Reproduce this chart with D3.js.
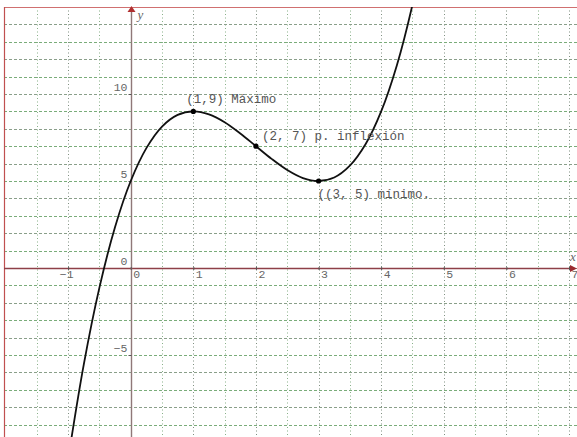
<!DOCTYPE html>
<html><head><meta charset="utf-8">
<script src="https://cdn.jsdelivr.net/npm/d3@7"></script>
<style>
html,body{margin:0;padding:0;background:#fff;}
svg{display:block;}
</style></head>
<body>
<script>
// Curve samples
const curveX = [-1,-0.75,-0.5,-0.25,0,0.25,0.5,0.75,1,1.25,1.5,1.75,2,2.25,2.5,2.75,3,3.25,3.5,3.75,4,4.25,4.5,4.75];
const curveY = [-11,-5.55,-1.13,2.36,5,6.89,8.13,8.8,9,8.83,8.38,7.73,7,6.27,5.63,5.17,5,5.2,5.88,7.11,9,11.64,15.13,19.55];
// Marked points and their annotations
const pointX = [1,2,3];
const pointY = [9,7,5];
const pointLabels = ["(1,9) Máximo","(2, 7) p. inflexión","((3, 5) mínimo."];
// Tick labels
const xTicks = [-1,0,1,2,3,4,5,6,7];
const yTicks = [10,5,0,-5];

const W = 577, H = 437;
const x = d3.scaleLinear().domain([-2, 7]).range([5.5, 569]);
const y = d3.scaleLinear().domain([-10, 15]).range([442, 7]);

const svg = d3.select("body").append("svg").attr("width", W).attr("height", H);

svg.append("defs").append("clipPath").attr("id","plot")
  .append("rect").attr("x",4).attr("y",7).attr("width",W-4).attr("height",H-7);

// grid
const vg = d3.range(-1.5, 7.01, 0.5);
svg.append("g").selectAll("line").data(vg).join("line")
  .attr("x1", d=>Math.round(x(d))+0.5).attr("x2", d=>Math.round(x(d))+0.5)
  .attr("y1", 7).attr("y2", H)
  .attr("stroke", (d,i)=> i%2 ? "#7f8f80" : "#88b088").attr("stroke-width",1)
  .attr("stroke-dasharray","1,2.5");
const hg = d3.range(-9, 14.01, 1);
svg.append("g").selectAll("line").data(hg).join("line")
  .attr("x1", 4).attr("x2", W)
  .attr("y1", d=>Math.round(y(d))+0.5).attr("y2", d=>Math.round(y(d))+0.5)
  .attr("stroke", (d,i)=> i%2 ? "#8a9f8a" : "#7aac7a").attr("stroke-width",1)
  .attr("stroke-dasharray","3,2");

// border (top, left)
svg.append("line").attr("x1",4).attr("x2",W).attr("y1",7.5).attr("y2",7.5).attr("stroke","#d07070").attr("stroke-width",1);
svg.append("line").attr("x1",4.5).attr("x2",4.5).attr("y1",7).attr("y2",H).attr("stroke","#c05050").attr("stroke-width",1.2);

// axes lines
const x0 = Math.round(x(0))+0.5, y0 = Math.round(y(0))+0.5;
svg.append("line").attr("x1",4).attr("x2",W-4).attr("y1",y0).attr("y2",y0).attr("stroke","#8e4048").attr("stroke-width",1.4);
svg.append("line").attr("x1",x0).attr("x2",x0).attr("y1",10).attr("y2",H).attr("stroke","#8f7878").attr("stroke-width",1.4);
// arrows
svg.append("path").attr("d",`M${W},${y0} L${W-7},${y0-3.5} L${W-7},${y0+3.5}Z`).attr("fill","#9a2a30");
svg.append("path").attr("d",`M${x0},6 L${x0-4},12 L${x0+4},12Z`).attr("fill","#b03030");

// x axis via d3 axis
const xAxis = d3.axisBottom(x).tickValues(xTicks).tickSize(3).tickFormat(d3.format("d"));
const gx = svg.append("g").attr("transform",`translate(0,${y0-1.5})`).call(xAxis);
gx.select(".domain").remove();
gx.selectAll(".tick line").attr("stroke","#555");
gx.selectAll(".tick text")
  .attr("font-family","'Liberation Mono', monospace").attr("font-size",11.5).attr("fill","#666")
  .attr("dy",0).attr("y",11)
  .attr("text-anchor", d=> d<0 ? "end" : "start")
  .attr("x", d=> d<0 ? 5 : 2);

const yAxis = d3.axisLeft(y).tickValues(yTicks).tickSize(3).tickFormat(d3.format("d"));
const gy = svg.append("g").attr("transform",`translate(${x0},0)`).call(yAxis);
gy.select(".domain").remove();
gy.selectAll(".tick line").attr("stroke","#555");
gy.selectAll(".tick text")
  .attr("font-family","'Liberation Mono', monospace").attr("font-size",11.5).attr("fill","#666")
  .attr("dy",0).attr("y",-4).attr("x",-4).attr("text-anchor","end");
gy.selectAll(".tick").filter(d=>d===0).select("line").remove();

// axis names
svg.append("text").attr("x",x0+6).attr("y",19).text("y")
  .attr("font-family","'Liberation Serif', serif").attr("font-style","italic").attr("font-size",13).attr("fill","#666");
svg.append("text").attr("x",W-7).attr("y",y0-8).text("x")
  .attr("font-family","'Liberation Serif', serif").attr("font-style","italic").attr("font-size",13).attr("fill","#666");

// curve
const pts = curveX.map((d,i)=>[d, curveY[i]]);
svg.append("path").datum(pts)
  .attr("clip-path","url(#plot)")
  .attr("d", d3.line().x(d=>x(d[0])).y(d=>y(d[1])).curve(d3.curveCatmullRom))
  .attr("fill","none").attr("stroke","#111").attr("stroke-width",1.8);

// points
svg.append("g").selectAll("circle").data(pointX).join("circle")
  .attr("cx", d=>x(d)).attr("cy",(d,i)=>y(pointY[i])).attr("r",2.6).attr("fill","#000");

// annotations
const labOff = [[-7,-8],[6,-6],[-1,17]];
svg.append("g").selectAll("text").data(pointLabels).join("text")
  .attr("x",(d,i)=>x(pointX[i])+labOff[i][0])
  .attr("y",(d,i)=>y(pointY[i])+labOff[i][1])
  .text(d=>d)
  .attr("font-family","'Liberation Mono', monospace").attr("font-size",12.5).attr("fill","#555");
</script>
</body></html>
